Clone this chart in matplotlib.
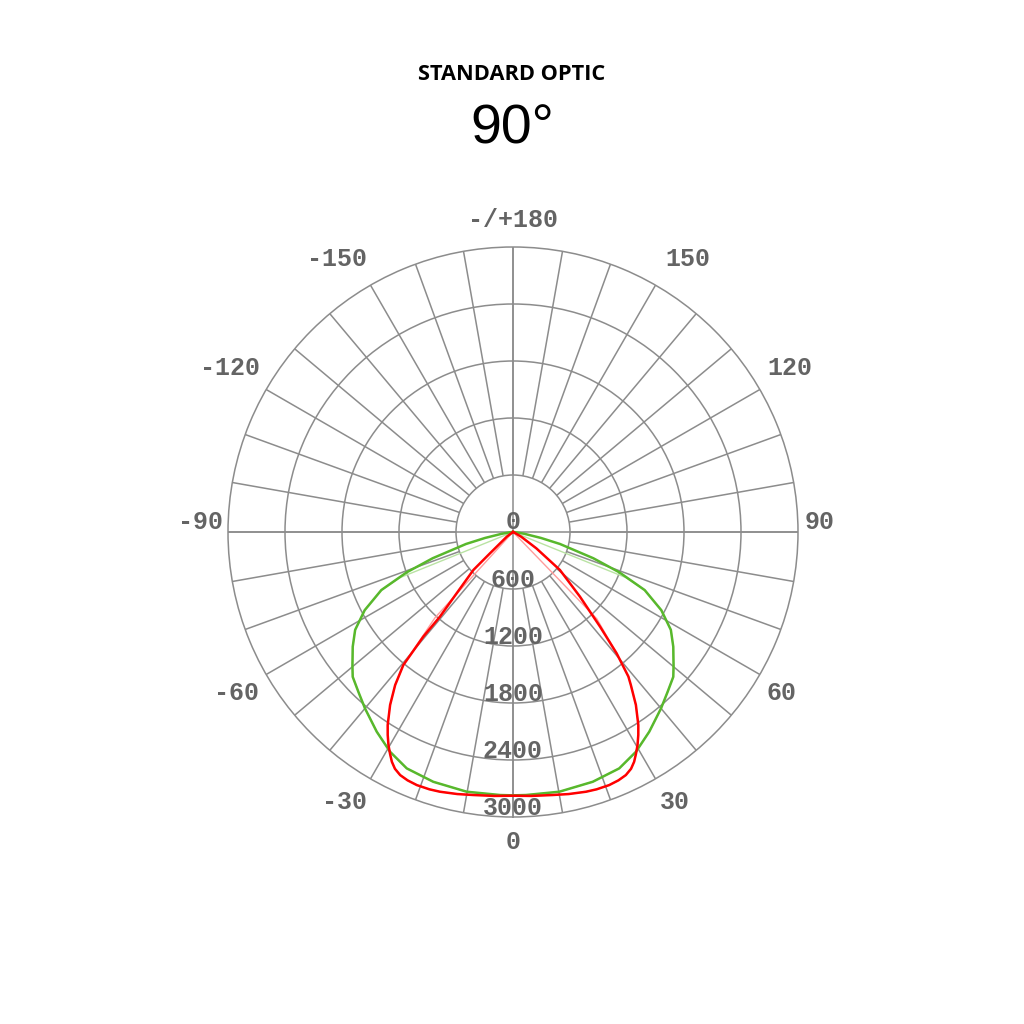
import numpy as np
import matplotlib
matplotlib.use("Agg")
import matplotlib.pyplot as plt

# photometric data in cd, angle in degrees from nadir (0 = straight down)
# C0-C180 plane (red) - the two sides differ a little near the centre
red_angles_right = [0, 4, 8.6, 12, 15.7, 18, 20.8, 23, 24.9, 26.5, 27.8, 29, 30.3, 31.7, 33.0,
                    35.4, 37.6, 38.6, 40.5, 42.6, 46, 51, 55, 60, 65, 70, 90]
red_values_right = [2776, 2785, 2800, 2820, 2840, 2848, 2850, 2840, 2821, 2785, 2734, 2670, 2598,
                    2510, 2422, 2233, 2033, 1947, 1680, 1354, 980, 636, 300, 100, 20, 0, 0]
red_angles_left = [0, 4, 8.6, 12, 15.7, 18, 20.8, 23, 24.9, 26.5, 27.8, 29, 30.3, 31.7, 33.0,
                   35.4, 37.6, 39.5, 40.6, 40.8, 42.6, 46.2, 47.2, 53, 60, 90]
red_values_left = [2776, 2785, 2800, 2820, 2840, 2848, 2850, 2840, 2821, 2785, 2734, 2670, 2598,
                   2510, 2422, 2233, 2033, 1815, 1450, 1177, 876, 578, 330, 80, 0, 0]
# fainter second curve of the red plane, ends in a straight run to the centre
red2_angles_right = [0, 4, 8.6, 12, 15.7, 18, 20.8, 23, 24.9, 26.5, 27.8, 29, 30.3, 31.7, 33.0,
                     35.4, 37.6, 38.6, 40.5, 44, 90]
red2_values_right = [2776, 2785, 2800, 2820, 2840, 2848, 2850, 2840, 2821, 2785, 2734, 2670, 2598,
                     2510, 2422, 2233, 2033, 1947, 1680, 1270, 0]
red2_angles_left = [0, 4, 8.6, 12, 15.7, 18, 20.8, 23, 24.9, 26.5, 27.8, 29, 30.3, 31.7, 33.0,
                    35.4, 37.6, 39.5, 42.3, 90]
red2_values_left = [2776, 2785, 2800, 2820, 2840, 2848, 2850, 2840, 2821, 2785, 2734, 2670, 2598,
                    2510, 2422, 2233, 2033, 1815, 1220, 0]

# C90-C270 plane (green), symmetric
green_angles = [0, 2.8, 10.1, 17.7, 24.2, 29.2, 34.3, 40, 44.1, 47.9, 50.2, 52.1, 54.4, 58.2,
                62.2, 66.2, 69.2, 71.9, 75.7, 78, 81, 85, 90]
green_values = [2772, 2772, 2777, 2760, 2728, 2651, 2545, 2424, 2340, 2274, 2200, 2140, 2075, 1955,
                1765, 1515, 1200, 890, 510, 300, 120, 30, 0]
green2_angles = [0, 2.8, 10.1, 17.7, 24.2, 29.2, 34.3, 40, 44.1, 47.9, 50.2, 52.1, 54.4, 58.2,
                 62.2, 66.2, 68, 90]
green2_values = [2772, 2772, 2777, 2760, 2728, 2651, 2545, 2424, 2340, 2274, 2200, 2140, 2075, 1955,
                 1765, 1515, 1280, 0]

ring_values = [600, 1200, 1800, 2400, 3000]
ring_labels = ["600", "1200", "1800", "2400", "3000"]
theta_labels = ["-/+180", "150", "120", "90", "60", "30", "0", "-30", "-60", "-90", "-120", "-150"]
# label centres in pixels from the diagram centre (x right, y down)
label_dx = [0, 175, 277, 307, 269, 162, 0, -169, -276, -313, -283, -176]
label_dy = [-312, -273, -164, -10, 161, 270, 310, 270, 161, -10, -164, -273]

title = "STANDARD OPTIC"
subtitle = "90°"

GRID = "#8c8c8c"
LABEL = "#646464"
RED = "#ff0000"
GREEN = "#58b82c"


def join_sides(a_left, v_left, a_right, v_right):
    al = np.array(a_left, dtype=float)
    ar = np.array(a_right, dtype=float)
    th = np.concatenate([-al[::-1], ar[1:]])
    r = np.concatenate([np.array(v_left, float)[::-1], np.array(v_right, float)[1:]])
    return np.deg2rad(th), r


fig = plt.figure(figsize=(10.24, 10.24), dpi=100)
cx, cy, R = 513, 532, 285  # pixel centre / radius of the diagram
ax = fig.add_axes([(cx - R) / 1024, (1024 - cy - R) / 1024, 2 * R / 1024, 2 * R / 1024],
                  projection="polar")
ax.set_theta_zero_location("S")
ax.set_theta_direction(1)
rmax = ring_values[-1]
ax.set_ylim(0, rmax)
ax.set_xticks([])
ax.set_yticks(ring_values[:-1])
ax.set_yticklabels([])
ax.yaxis.grid(True, color=GRID, lw=1.1)
ax.spines["polar"].set_color(GRID)
ax.spines["polar"].set_linewidth(1.1)

# spokes every 10 deg from first ring, main axes through the centre
spokes = np.deg2rad(np.arange(0, 360, 10))
ax.vlines(spokes, ring_values[0], rmax, color=GRID, lw=1.1, zorder=1)
ax.vlines(np.deg2rad([0, 90, 180, 270]), 0, rmax, color=GRID, lw=1.1, zorder=1)

# curves (faint ones underneath)
th, r = join_sides(red2_angles_left, red2_values_left, red2_angles_right, red2_values_right)
ax.plot(th, r, color="#ff9c9c", lw=1.0, zorder=3)
th, r = join_sides(green2_angles, green2_values, green2_angles, green2_values)
ax.plot(th, r, color="#b9e3a3", lw=1.0, zorder=3)
th, r = join_sides(green_angles, green_values, green_angles, green_values)
ax.plot(th, r, color=GREEN, lw=1.8, zorder=4, solid_joinstyle="round")
th, r = join_sides(red_angles_left, red_values_left, red_angles_right, red_values_right)
ax.plot(th, r, color=RED, lw=1.8, zorder=5, solid_joinstyle="round")

mono = dict(family="Liberation Mono", fontsize=18, color=LABEL, fontweight="bold")
px = 0.72  # points per pixel at dpi 100

# ring labels sit just above each ring on the downward axis
ax.annotate("0", xy=(0, 0), xytext=(0, 10 * px), textcoords="offset points",
            ha="center", va="center", zorder=6, **mono)
for val, lab in zip(ring_values, ring_labels):
    ax.annotate(lab, xy=(0, val), xytext=(0, 9 * px), textcoords="offset points",
                ha="center", va="center", zorder=6, **mono)

# angle labels round the outside
for lab, dx, dy in zip(theta_labels, label_dx, label_dy):
    ax.annotate(lab, xy=(0, 0), xytext=(dx * px, -dy * px), textcoords="offset points",
                ha="center", va="center", annotation_clip=False, **mono)

fig.text(0.5, 1 - 80 / 1024, title, ha="center", va="baseline",
         family="Open Sans", fontweight="bold", fontsize=15.7, color="black")
fig.text(0.5, 1 - 143 / 1024, subtitle, ha="center", va="baseline",
         family="Liberation Sans", fontsize=40, color="black")

fig.savefig("out.png", dpi=100, facecolor="white")
